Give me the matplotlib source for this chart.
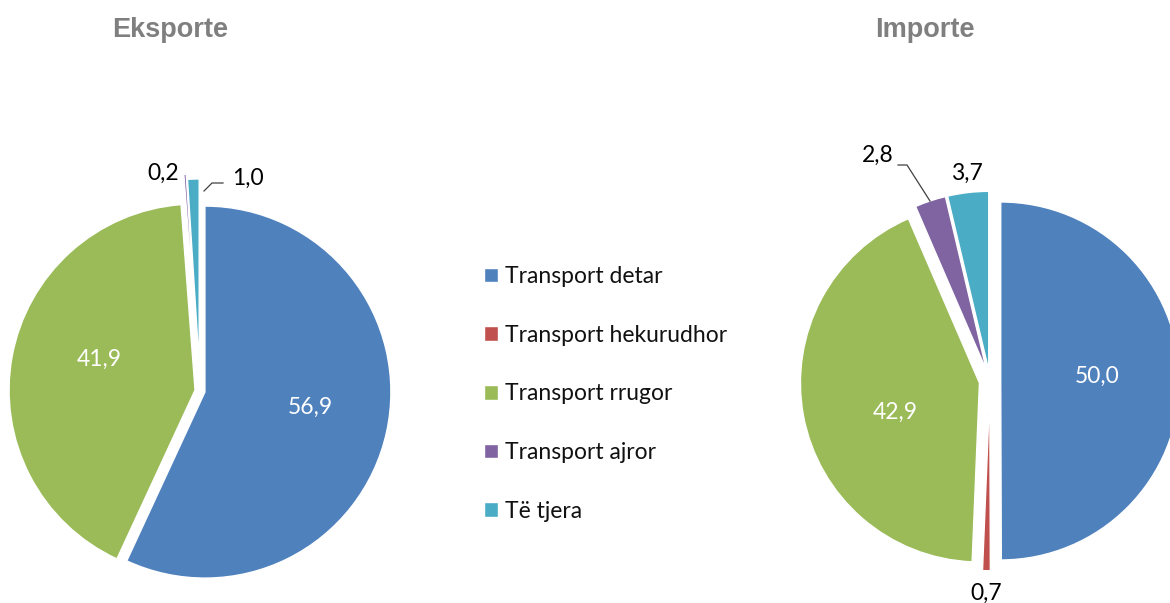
import matplotlib
matplotlib.use("Agg")
import matplotlib.pyplot as plt

# ---- data ----
categories = ["Transport detar", "Transport hekurudhor", "Transport rrugor",
              "Transport ajror", "Të tjera"]
eksporte = [56.9, 0.0, 41.9, 0.2, 1.0]
importe = [50.0, 0.7, 42.9, 2.8, 3.7]
titles = ["Eksporte", "Importe"]
colors = ["#4F81BD", "#C0504D", "#9BBB59", "#8064A2", "#4BACC6"]

W, H = 1170, 603
fig = plt.figure(figsize=(W / 100, H / 100), dpi=100)
fig.patch.set_facecolor("white")

LABEL_FONT = "Lato"
LFS = 16.5


def fmt(v):
    return f"{v:.1f}".replace(".", ",")


def pie_axes():
    ax = fig.add_axes([0, 0, 1, 1])
    ax.axis("off")
    return ax


def set_lims(ax, cx, cy, R):
    ax.set_xlim(-cx / R, (W - cx) / R)
    ax.set_ylim((cy - H) / R, cy / R)
    ax.set_aspect("auto")


def p2d(cx, cy, R, x, y):
    return ((x - cx) / R, (cy - y) / R)


# ---- left pie (Eksporte) ----
L = dict(cx=200, cy=391, R=186)
axL = pie_axes()
wL, _ = axL.pie(eksporte, colors=colors, startangle=90, counterclock=False,
                explode=[0.027, 0.027, 0.027, 0.17, 0.14],
                wedgeprops=dict(edgecolor="white", linewidth=1))
set_lims(axL, **L)

left_label_pos = {0: (310, 407, "white"), 2: (99, 359, "white"),
                  3: (163, 173, "black"), 4: (248, 178, "black")}
for i, (x, y, c) in left_label_pos.items():
    axL.text(*p2d(L["cx"], L["cy"], L["R"], x, y), fmt(eksporte[i]),
             ha="center", va="center", color=c, fontsize=LFS, family=LABEL_FONT)
pts = [p2d(L["cx"], L["cy"], L["R"], x, y) for x, y in [(204, 191), (212, 183), (223, 183)]]
axL.plot([p[0] for p in pts], [p[1] for p in pts], color="#404040", lw=0.9)

# ---- right pie (Importe) ----
Rt = dict(cx=990, cy=381, R=179)
axR = pie_axes()
wR, _ = axR.pie(importe, colors=colors, startangle=90, counterclock=False,
                explode=[0.06] * 5,
                wedgeprops=dict(edgecolor="white", linewidth=1))
set_lims(axR, **Rt)

right_label_pos = {0: (1097, 376, "white"), 2: (895, 412, "white"),
                   1: (986, 593, "black"), 3: (878, 155, "black"),
                   4: (967, 173, "black")}
for i, (x, y, c) in right_label_pos.items():
    axR.text(*p2d(Rt["cx"], Rt["cy"], Rt["R"], x, y), fmt(importe[i]),
             ha="center", va="center", color=c, fontsize=LFS, family=LABEL_FONT)
pts = [p2d(Rt["cx"], Rt["cy"], Rt["R"], x, y) for x, y in [(898, 165), (907, 165), (930, 201)]]
axR.plot([p[0] for p in pts], [p[1] for p in pts], color="#404040", lw=0.9)

# ---- titles ----
for t, x in zip(titles, [170, 925]):
    fig.text(x / W, 1 - 30 / H, t, ha="center", va="center", fontsize=19.5,
             fontweight="bold", color="#7F7F7F", family="Liberation Sans")

# ---- legend ----
leg = fig.legend(wR, categories, loc="upper left",
                 bbox_to_anchor=(484 / W, 1 - 266 / H),
                 frameon=False, prop=dict(family=LABEL_FONT, size=LFS),
                 handlelength=0.6, handleheight=0.6, handletextpad=0.33,
                 labelspacing=1.645, borderpad=0, borderaxespad=0)
for t in leg.get_texts():
    t.set_color("#111111")

fig.savefig("out.png", dpi=100, facecolor="white")
